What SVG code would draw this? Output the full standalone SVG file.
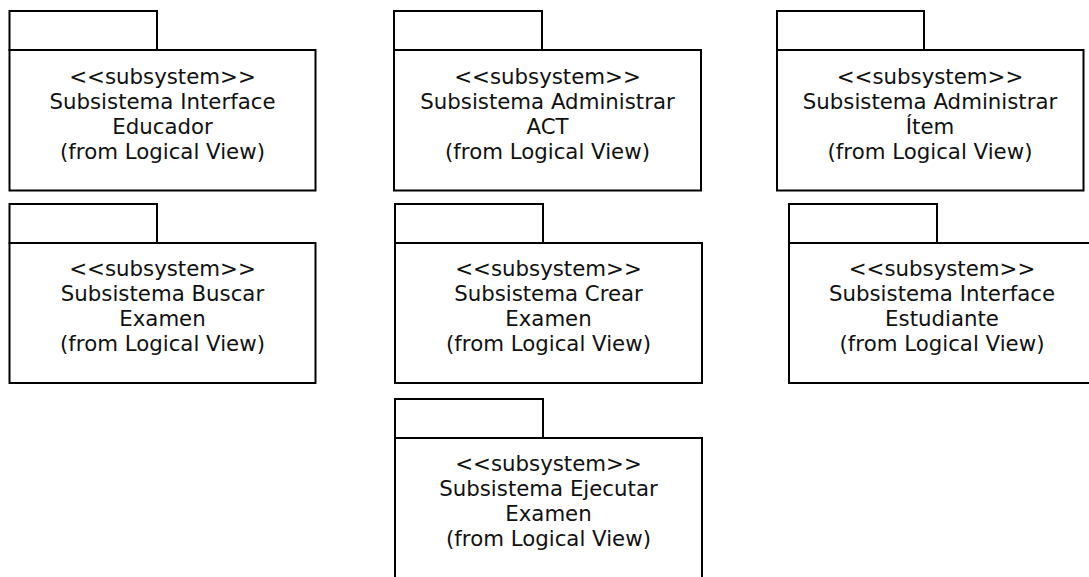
<svg xmlns="http://www.w3.org/2000/svg" width="1089" height="577" viewBox="0 0 1089 577">
<style>
.b{fill:#fff;stroke:#000;stroke-width:2}
.t{font-family:"DejaVu Sans",Verdana,sans-serif;font-size:21.3px;fill:#111;text-anchor:middle}
</style>
<rect width="1089" height="577" fill="#fff"/>
<g id="n1">
<rect class="b" x="9.5" y="11" width="147.5" height="39"/>
<rect class="b" x="9.5" y="50" width="306" height="140.5"/>
<text class="t" x="162.5" y="84">&lt;&lt;subsystem&gt;&gt;</text>
<text class="t" x="162.5" y="109">Subsistema Interface</text>
<text class="t" x="162.5" y="134">Educador</text>
<text class="t" x="162.5" y="159">(from Logical View)</text>
</g>
<g id="n2">
<rect class="b" x="394" y="11" width="148" height="39"/>
<rect class="b" x="394" y="50" width="307" height="140.5"/>
<text class="t" x="547.5" y="84">&lt;&lt;subsystem&gt;&gt;</text>
<text class="t" x="547.5" y="109">Subsistema Administrar</text>
<text class="t" x="547.5" y="134">ACT</text>
<text class="t" x="547.5" y="159">(from Logical View)</text>
</g>
<g id="n3">
<rect class="b" x="777" y="11" width="147" height="39"/>
<rect class="b" x="777" y="50" width="306.5" height="140.5"/>
<text class="t" x="930" y="84">&lt;&lt;subsystem&gt;&gt;</text>
<text class="t" x="930" y="109">Subsistema Administrar</text>
<text class="t" x="930" y="134">Ítem</text>
<text class="t" x="930" y="159">(from Logical View)</text>
</g>
<g id="n4">
<rect class="b" x="9.5" y="204" width="147.5" height="39"/>
<rect class="b" x="9.5" y="243" width="306" height="140"/>
<text class="t" x="162.5" y="276">&lt;&lt;subsystem&gt;&gt;</text>
<text class="t" x="162.5" y="301">Subsistema Buscar</text>
<text class="t" x="162.5" y="326">Examen</text>
<text class="t" x="162.5" y="351">(from Logical View)</text>
</g>
<g id="n5">
<rect class="b" x="395" y="204" width="148" height="39"/>
<rect class="b" x="395" y="243" width="307" height="140"/>
<text class="t" x="548.5" y="276">&lt;&lt;subsystem&gt;&gt;</text>
<text class="t" x="548.5" y="301">Subsistema Crear</text>
<text class="t" x="548.5" y="326">Examen</text>
<text class="t" x="548.5" y="351">(from Logical View)</text>
</g>
<g id="n6">
<rect class="b" x="789" y="204" width="148" height="39"/>
<rect class="b" x="789" y="243" width="306" height="140"/>
<text class="t" x="942" y="276">&lt;&lt;subsystem&gt;&gt;</text>
<text class="t" x="942" y="301">Subsistema Interface</text>
<text class="t" x="942" y="326">Estudiante</text>
<text class="t" x="942" y="351">(from Logical View)</text>
</g>
<g id="n7">
<rect class="b" x="395" y="399" width="148" height="39"/>
<rect class="b" x="395" y="438" width="307" height="150"/>
<text class="t" x="548.5" y="471">&lt;&lt;subsystem&gt;&gt;</text>
<text class="t" x="548.5" y="496">Subsistema Ejecutar</text>
<text class="t" x="548.5" y="521">Examen</text>
<text class="t" x="548.5" y="546">(from Logical View)</text>
</g>
<g id="connectors"/>
</svg>
